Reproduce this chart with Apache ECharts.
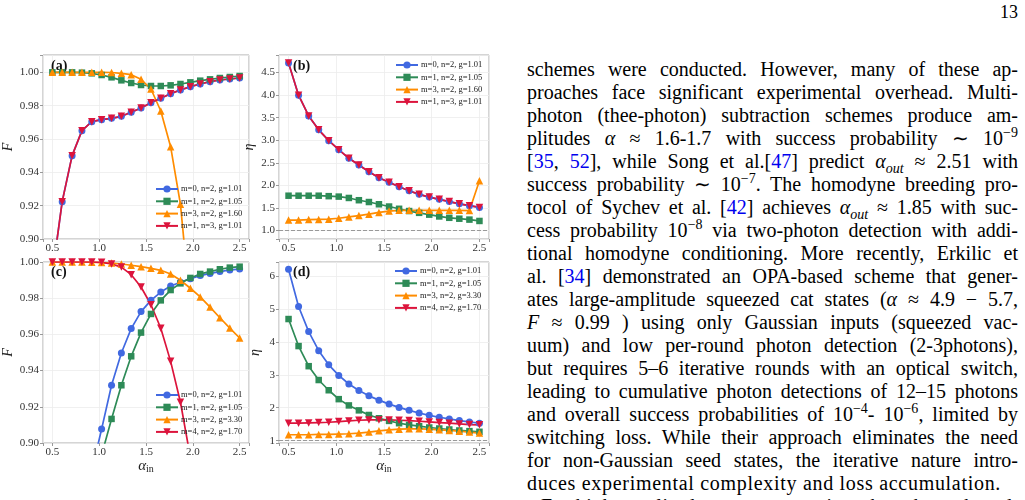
<!DOCTYPE html>
<html>
<head>
<meta charset="UTF-8">
<title>fidelity and eta</title>
<script src="https://cdn.jsdelivr.net/npm/echarts@6/dist/echarts.min.js"></script>
<style>
body{margin:0;background:#fff;width:1025px;height:500px;overflow:hidden;position:relative;}
#plots{position:absolute;left:0;top:0;width:515px;height:500px;}
#pg{position:absolute;right:7px;top:2px;font-family:"Liberation Serif",serif;font-size:18px;color:#000;}
#text{position:absolute;left:527px;top:58px;width:491px;font-family:"Liberation Serif",serif;font-size:20px;color:#000;}
#text div{height:23px;line-height:23px;text-align:justify;text-align-last:justify;white-space:nowrap;}
#text div.last{text-align:left;text-align-last:left;letter-spacing:0.7px;}
#text div.ind{text-align:left;text-align-last:left;padding-left:14px;letter-spacing:0.5px;}
#text sup,#text sub{font-size:70%;line-height:0;}
#text a{color:#0000ee;text-decoration:none;}
</style>
</head>
<body>
<div id="plots"></div>
<div id="pg">13</div>
<div id="text">
<div>schemes were conducted. However, many of these ap-</div>
<div>proaches face significant experimental overhead. Multi-</div>
<div>photon (thee-photon) subtraction schemes produce am-</div>
<div>plitudes <i>α</i> ≈ 1.6-1.7 with success probability ∼ 10<sup>−9</sup></div>
<div>[<a>35</a>, <a>52</a>], while Song et al.[<a>47</a>] predict <i>α<sub>out</sub></i> ≈ 2.51 with</div>
<div>success probability ∼ 10<sup>−7</sup>. The homodyne breeding pro-</div>
<div>tocol of Sychev et al. [<a>42</a>] achieves <i>α<sub>out</sub></i> ≈ 1.85 with suc-</div>
<div>cess probability 10<sup>−8</sup> via two-photon detection with addi-</div>
<div>tional homodyne conditioning. More recently, Erkilic et</div>
<div>al. [<a>34</a>] demonstrated an OPA-based scheme that gener-</div>
<div>ates large-amplitude squeezed cat states (<i>α</i> ≈ 4.9 − 5.7,</div>
<div><i>F</i> ≈ 0.99 ) using only Gaussian inputs (squeezed vac-</div>
<div>uum) and low per-round photon detection (2-3photons),</div>
<div>but requires 5–6 iterative rounds with an optical switch,</div>
<div>leading to cumulative photon detections of 12–15 photons</div>
<div>and overall success probabilities of 10<sup>−4</sup>- 10<sup>−6</sup>, limited by</div>
<div>switching loss. While their approach eliminates the need</div>
<div>for non-Gaussian seed states, the iterative nature intro-</div>
<div class="last">duces experimental complexity and loss accumulation.</div>
<div class="ind">For high-amplitude target generation, the scheme based</div>
</div>
<script type="text/javascript">
	// x grid shared by all four panels
	var alphaIn=[0.5,0.605,0.711,0.816,0.921,1.026,1.132,1.237,1.342,1.447,1.553,1.658,1.763,1.868,1.974,2.079,2.184,2.289,2.395,2.5];
	// (a) fidelity
	var aM0=[0.879,0.9224,0.950,0.965,0.9704,0.9716,0.9724,0.9736,0.976,0.9786,0.9818,0.9844,0.9872,0.9894,0.9914,0.993,0.9944,0.9954,0.996,0.9966];
	var aM1=[1.000,1.000,1.000,0.9998,0.9994,0.9984,0.997,0.9952,0.9936,0.9924,0.9918,0.9918,0.9922,0.993,0.994,0.995,0.9958,0.9966,0.9972,0.9978];
	var aM3=[1.000,1.000,1.000,1.000,1.000,1.000,0.9999,0.9994,0.9986,0.9958,0.990,0.9768,0.9554,0.9208,0.858,0.78,0.68,0.56,0.43,0.30];
	var aM1n3=[0.879,0.9224,0.950,0.965,0.9704,0.9716,0.9724,0.9736,0.976,0.9786,0.9818,0.9844,0.9872,0.9894,0.9914,0.993,0.9944,0.9954,0.996,0.9966];
	// (b) eta
	var bM0=[4.71,4.00,3.54,3.23,2.99,2.79,2.60,2.45,2.30,2.17,2.07,1.97,1.88,1.80,1.74,1.69,1.64,1.59,1.55,1.51];
	var bM1=[1.77,1.77,1.77,1.77,1.76,1.75,1.72,1.67,1.63,1.58,1.53,1.48,1.43,1.39,1.35,1.31,1.28,1.26,1.24,1.21];
	var bM3=[1.23,1.23,1.24,1.245,1.25,1.27,1.30,1.33,1.36,1.40,1.43,1.445,1.445,1.445,1.445,1.445,1.445,1.445,1.44,2.10];
	var bM1n3=[4.71,4.00,3.54,3.23,2.99,2.79,2.60,2.45,2.30,2.17,2.07,1.97,1.88,1.80,1.74,1.69,1.64,1.59,1.55,1.51];
	// (c) fidelity
	var cM0=[0.62,0.70,0.77,0.83,0.8845,0.9077,0.9319,0.9497,0.9632,0.9726,0.9788,0.9834,0.9867,0.9888,0.9908,0.9925,0.9937,0.9947,0.9956,0.9961];
	var cM1=[0.55,0.64,0.72,0.78,0.84,0.8934,0.9133,0.9319,0.9479,0.961,0.9713,0.9788,0.9845,0.9882,0.9912,0.9934,0.9947,0.996,0.9969,0.9974];
	var cM3=[1.0,1.0,1.0,1.0,0.9999,0.9997,0.9994,0.9989,0.9982,0.9974,0.9965,0.9954,0.9934,0.9899,0.9855,0.9807,0.9751,0.9692,0.9635,0.958];
	var cM4=[1.0,1.0,1.0,1.0,1.0,0.9998,0.9989,0.9972,0.993,0.9862,0.9764,0.9634,0.9451,0.9225,0.892,0.85,0.80,0.74,0.67,0.60];
	// (d) eta
	var dM0=[6.20,5.07,4.31,3.73,3.30,2.98,2.72,2.52,2.36,2.23,2.11,2.01,1.92,1.84,1.77,1.71,1.66,1.61,1.57,1.53];
	var dM1=[4.69,3.87,3.26,2.84,2.53,2.26,2.07,1.92,1.78,1.68,1.60,1.53,1.48,1.44,1.40,1.37,1.34,1.31,1.29,1.27];
	var dM3=[1.18,1.18,1.18,1.19,1.19,1.20,1.21,1.23,1.26,1.30,1.33,1.35,1.36,1.36,1.35,1.33,1.31,1.29,1.26,1.23];
	var dM4=[1.53,1.53,1.54,1.55,1.56,1.58,1.60,1.62,1.63,1.63,1.63,1.62,1.61,1.59,1.57,1.55,1.53,1.51,1.49,1.48];

	var nm0='m=0, n=2, g=1.01', nm1='m=1, n=2, g=1.05', nm3a='m=3, n=2, g=1.60',
		nm13='m=1, n=3, g=1.01', nm3c='m=3, n=2, g=3.30', nm4='m=4, n=2, g=1.70';

	var BLUE='#4169e1', GREEN='#2e8b57', ORANGE='#ff8c00', RED='#dc143c';
	var SERIF='"Liberation Serif", "Times New Roman", serif';
	var triDown='path://M0,0L10,0L5,9Z';

	function pairs(ys){
		var out=[];
		for(var i=0;i<alphaIn.length;i++){ out.push([alphaIn[i],ys[i]]); }
		return out;
	}
	function line(name,ys,idx,color,symbol,size){
		return {
			name:name,type:'line',xAxisIndex:idx,yAxisIndex:idx,
			data:pairs(ys),symbol:symbol,symbolSize:size,showSymbol:true,
			lineStyle:{width:1.7,color:color},itemStyle:{color:color},
			clip:true,animation:false
		};
	}
	function fmt(step,dec){
		return function(v){
			var k=v/step;
			return Math.abs(k-Math.round(k))<1e-6 ? v.toFixed(dec) : '';
		};
	}
	var grids=[
		{left:40,top:55,width:209,height:184},
		{left:279,top:55,width:210,height:184},
		{left:40,top:262,width:209,height:181},
		{left:279,top:262,width:210,height:181}
	];
	grids.forEach(function(g){ g.show=true; g.borderColor='#aaaaaa'; g.borderWidth=1; g.backgroundColor='#fff'; });

	function xAx(idx,label){
		var o={
			type:'value',gridIndex:idx,min:0.4,max:2.6,splitNumber:5,
			axisLine:{show:false},
			axisTick:{show:true,length:3,lineStyle:{color:'#999'}},
			axisLabel:{fontFamily:SERIF,fontSize:11,color:'#333',margin:4,formatter:fmt(0.5,1)},
			splitLine:{show:true,lineStyle:{color:'#ececec',width:0.8}}
		};
		if(label){
			o.name='{a|α}{b|in}';
			o.nameLocation='middle';
			o.nameGap=15;
			o.nameTextStyle={rich:{
				a:{fontFamily:SERIF,fontStyle:'italic',fontSize:15,color:'#222'},
				b:{fontFamily:SERIF,fontSize:10,color:'#222',verticalAlign:'bottom',padding:[6,0,0,0]}
			}};
		}
		return o;
	}
	function yAx(idx,name,min,max,step,dec,extra){
		var o={
			type:'value',gridIndex:idx,min:min,max:max,
			name:name,nameLocation:'middle',nameGap:28,
			nameTextStyle:{fontFamily:SERIF,fontStyle:'italic',fontSize:14,color:'#222'},
			axisLine:{show:false},
			axisTick:{show:true,length:3,lineStyle:{color:'#999'}},
			axisLabel:{fontFamily:SERIF,fontSize:11,color:'#333',margin:4,formatter:fmt(step,dec)},
			splitLine:{show:true,lineStyle:{color:'#ececec',width:0.8}}
		};
		for(var k in extra){ o[k]=extra[k]; }
		return o;
	}
	function leg(left,top,names){
		return {
			orient:'vertical',left:left,top:top,data:names,
			itemWidth:22,itemHeight:9,itemGap:2.3,selectedMode:false,
			textStyle:{fontFamily:SERIF,fontSize:8.5,color:'#222',lineHeight:10,padding:[0,0,0,-2]},
			padding:0
		};
	}
	var dash={silent:true,symbol:'none',label:{show:false},
		lineStyle:{color:'#999',type:'dashed',width:1},data:[{yAxis:1}]};

	var series=[
		line(nm0,aM0,0,BLUE,'circle',7),
		line(nm1,aM1,0,GREEN,'rect',6.5),
		line(nm3a,aM3,0,ORANGE,'triangle',7.5),
		line(nm13,aM1n3,0,RED,triDown,7.5),

		line(nm0,bM0,1,BLUE,'circle',7),
		line(nm1,bM1,1,GREEN,'rect',6.5),
		line(nm3a,bM3,1,ORANGE,'triangle',7.5),
		line(nm13,bM1n3,1,RED,triDown,7.5),

		line(nm0,cM0,2,BLUE,'circle',7),
		line(nm1,cM1,2,GREEN,'rect',6.5),
		line(nm3c,cM3,2,ORANGE,'triangle',7.5),
		line(nm4,cM4,2,RED,triDown,7.5),

		line(nm0,dM0,3,BLUE,'circle',7),
		line(nm1,dM1,3,GREEN,'rect',6.5),
		line(nm3c,dM3,3,ORANGE,'triangle',7.5),
		line(nm4,dM4,3,RED,triDown,7.5)
	];
	series[4].markLine=dash;
	series[12].markLine=dash;

	var chart=echarts.init(document.getElementById('plots'));
	var option={
		animation:false,
		grid:grids,
		xAxis:[xAx(0,false),xAx(1,false),xAx(2,true),xAx(3,true)],
		yAxis:[
			yAx(0,'F',0.9,1.0104,0.02,2,{interval:0.02}),
			yAx(1,'η',0.81,4.89,0.5,1,{splitNumber:8,nameGap:23}),
			yAx(2,'F',0.9,1.0,0.02,2,{interval:0.02}),
			yAx(3,'η',0.93,6.42,1,0,{splitNumber:5,nameGap:17})
		],
		legend:[
			leg(155,184,[nm0,nm1,nm3a,nm13]),
			leg(395,60,[nm0,nm1,nm3a,nm13]),
			leg(155,390,[nm0,nm1,nm3c,nm4]),
			leg(394,266,[nm0,nm1,nm3c,nm4])
		],
		graphic:[
			{type:'text',left:51,top:59,z:1,style:{text:'(a)',font:'bold 14px '+SERIF,fill:'#111'}},
			{type:'text',left:293,top:59,z:1,style:{text:'(b)',font:'bold 14px '+SERIF,fill:'#111'}},
			{type:'text',left:51,top:265,z:1,style:{text:'(c)',font:'bold 14px '+SERIF,fill:'#111'}},
			{type:'text',left:293,top:265,z:1,style:{text:'(d)',font:'bold 14px '+SERIF,fill:'#111'}}
		],
		series:series
	};
	chart.setOption(option);
</script>
</body>
</html>
